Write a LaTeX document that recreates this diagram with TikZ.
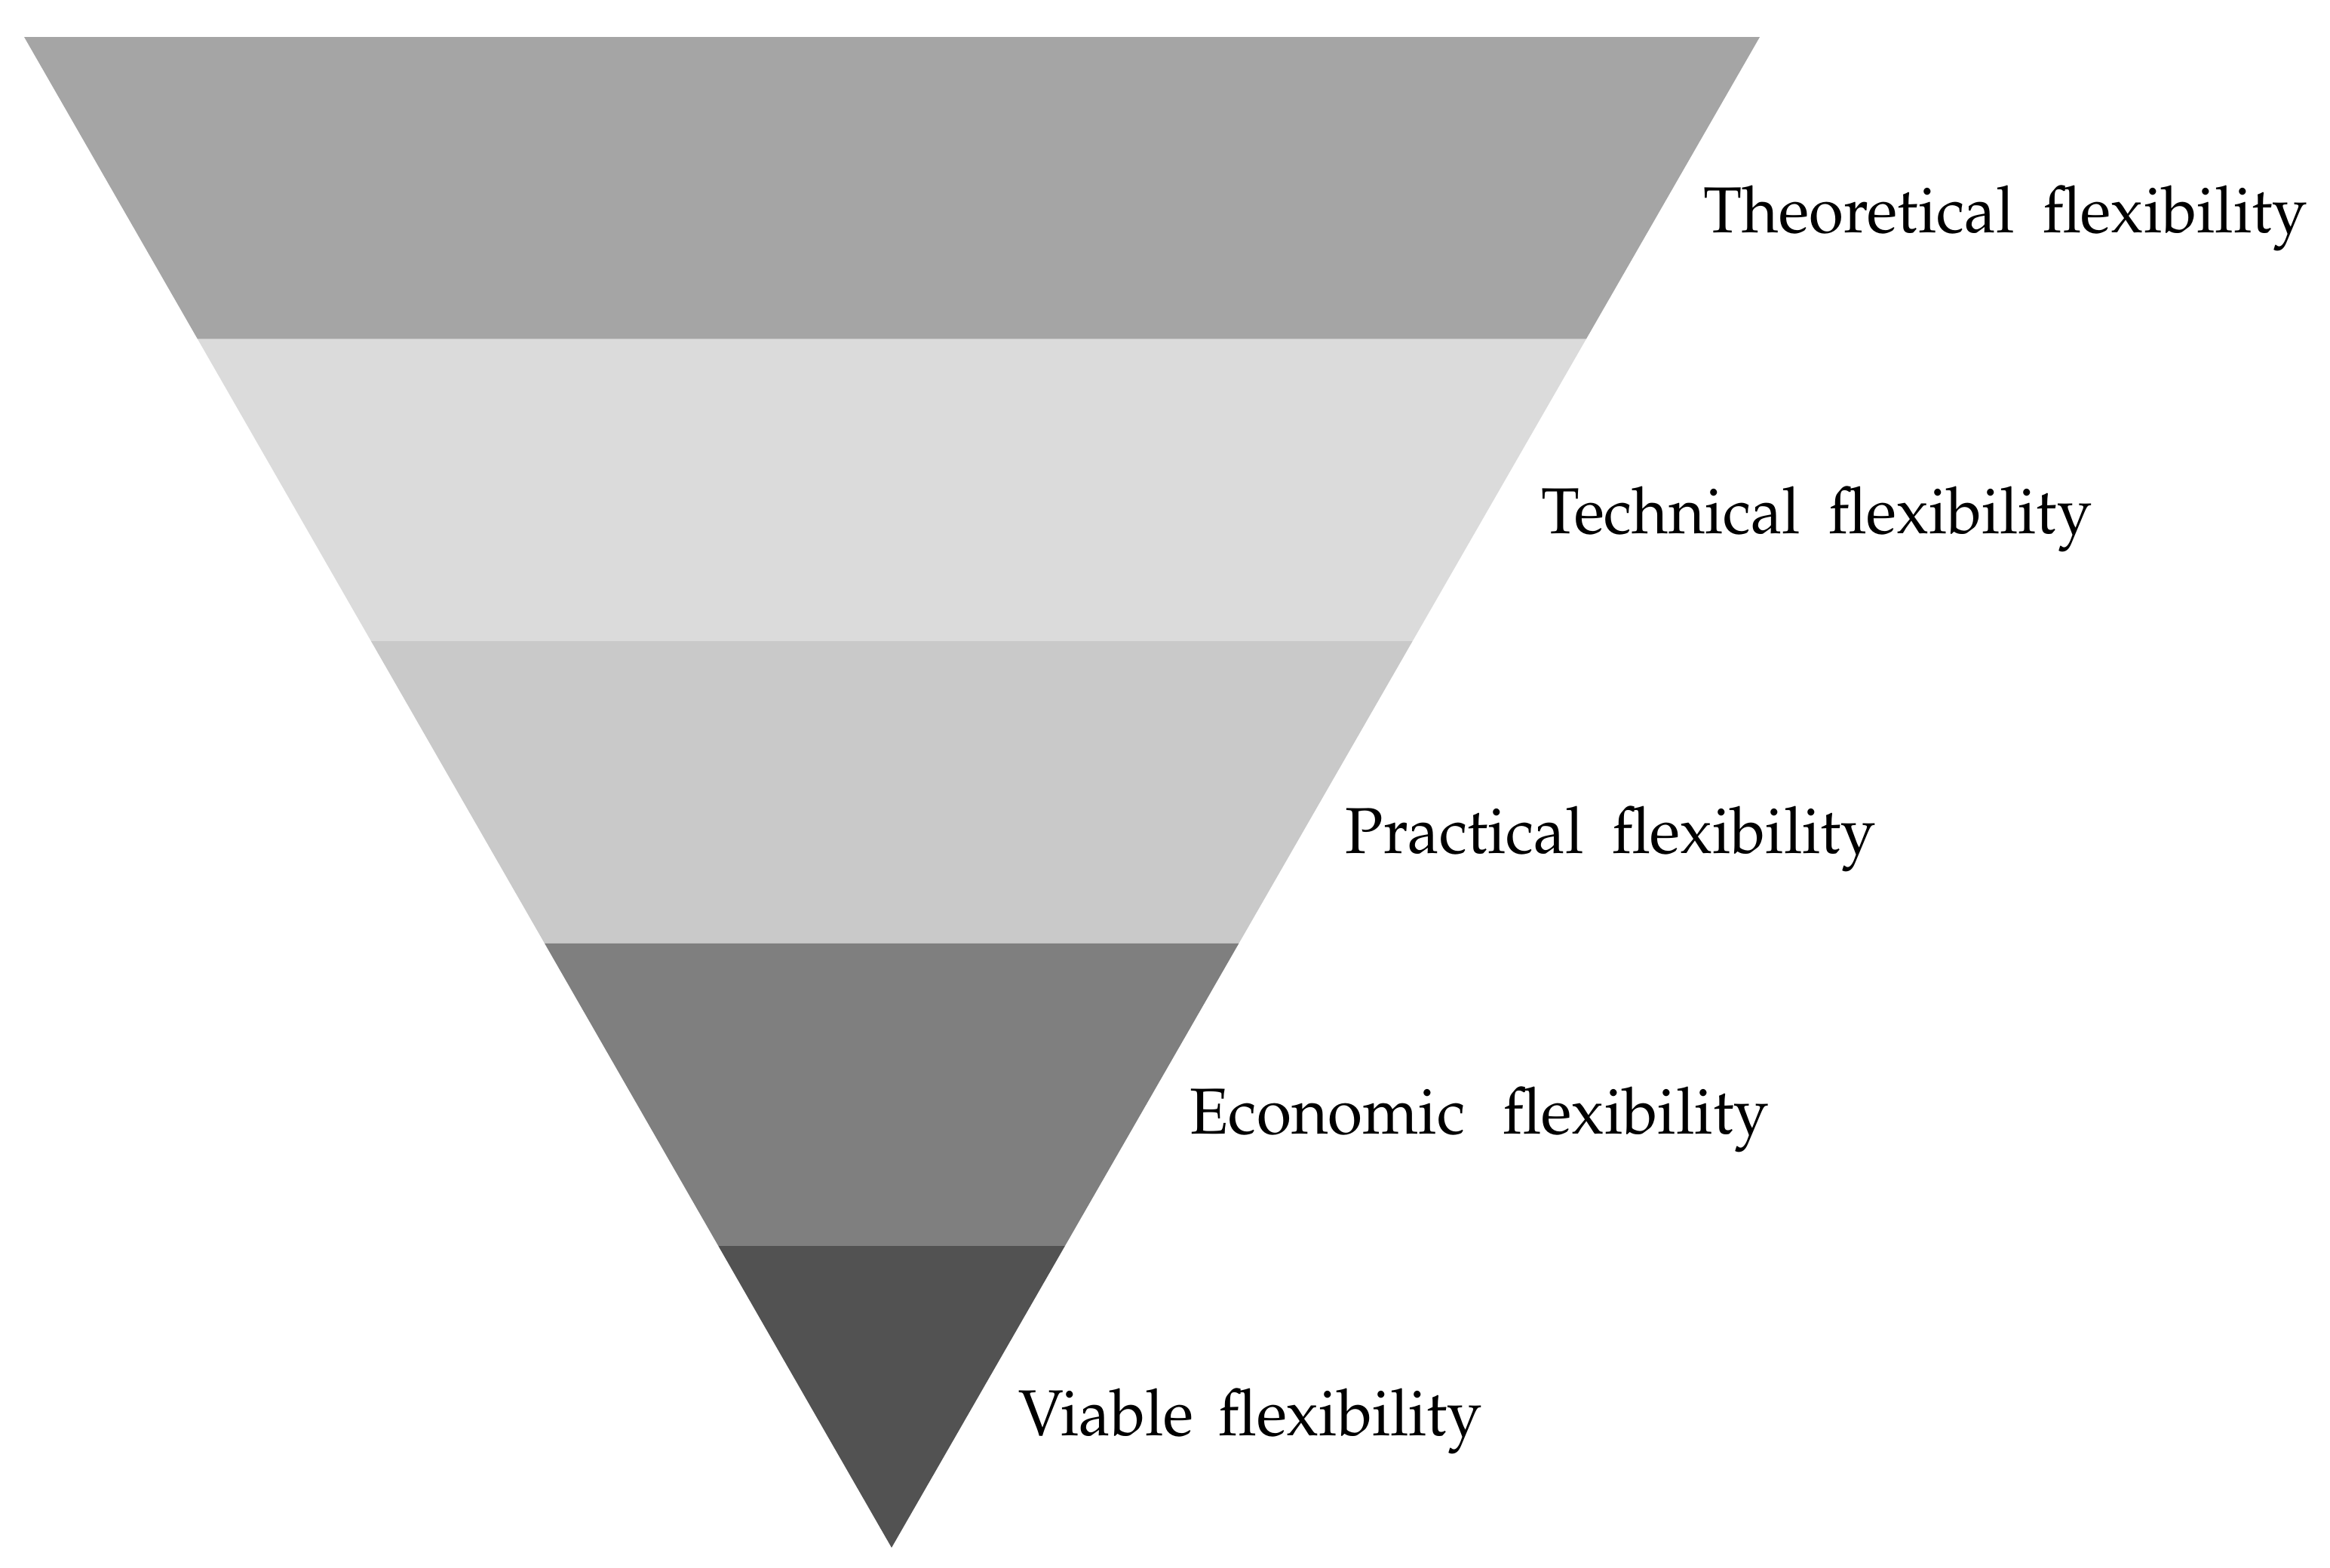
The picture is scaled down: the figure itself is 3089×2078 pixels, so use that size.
\documentclass[tikz,border=0pt]{standalone}
\usepackage[T1]{fontenc}
\usepackage{mathpazo}
\usetikzlibrary{calc}
\definecolor{bandA}{HTML}{A5A5A5}
\definecolor{bandB}{HTML}{DBDBDB}
\definecolor{bandC}{HTML}{C9C9C9}
\definecolor{bandD}{HTML}{7F7F7F}
\definecolor{bandE}{HTML}{525252}
\tikzset{
  lbl/.style={inner sep=0pt, anchor=base west, font=\fontsize{24.5pt}{29pt}\selectfont}
}
\begin{document}
\begin{tikzpicture}[x=0.01cm,y=-0.01cm]
\useasboundingbox (0,0) rectangle (3089,2078);
\coordinate (TL) at (32,49);
\coordinate (TR) at (2333,49);
\coordinate (AP) at (1182,2052);
\fill[bandA] (TL) -- (TR) -- ($(TR)!0.2!(AP)$) -- ($(TL)!0.2!(AP)$) -- cycle;
\fill[bandB] ($(TL)!0.2!(AP)$) -- ($(TR)!0.2!(AP)$) -- ($(TR)!0.4!(AP)$) -- ($(TL)!0.4!(AP)$) -- cycle;
\fill[bandC] ($(TL)!0.4!(AP)$) -- ($(TR)!0.4!(AP)$) -- ($(TR)!0.6!(AP)$) -- ($(TL)!0.6!(AP)$) -- cycle;
\fill[bandD] ($(TL)!0.6!(AP)$) -- ($(TR)!0.6!(AP)$) -- ($(TR)!0.8!(AP)$) -- ($(TL)!0.8!(AP)$) -- cycle;
\fill[bandE] ($(TL)!0.8!(AP)$) -- ($(TR)!0.8!(AP)$) -- (AP) -- cycle;
\node[lbl] (theo) at (2258,308) {\resizebox{8.00cm}{\height}{Theoretical\hspace{0.45em}flexibility}};
\node[lbl] (tech) at (2043,707) {\resizebox{7.29cm}{\height}{Technical\hspace{0.45em}flexibility}};
\node[lbl] (prac) at (1783,1131) {\resizebox{7.03cm}{\height}{Practical\hspace{0.45em}flexibility}};
\node[lbl] (econ) at (1577,1503) {\resizebox{7.67cm}{\height}{Economic\hspace{0.6em}flexibility}};
\node[lbl] (viab) at (1350,1903) {\resizebox{6.14cm}{\height}{Viable\hspace{0.4em}flexibility}};
\end{tikzpicture}
\end{document}
